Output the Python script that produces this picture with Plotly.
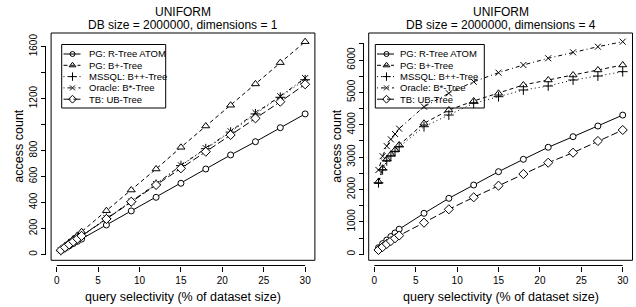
import plotly.graph_objects as go

# ---------------- data ----------------
selectivity = [0.5, 1, 1.5, 2, 2.5, 3, 6, 9, 12, 15, 18, 21, 24, 27, 30]

series_names = ["PG: R-Tree ATOM", "PG: B+-Tree", "MSSQL: B++-Tree",
                "Oracle: B*-Tree", "TB: UB-Tree"]

# dimensions = 1
rtree_d1 = [30, 48, 66, 84, 101, 118, 227, 335, 440, 548, 658, 766, 868, 976, 1082]
bplus_d1 = [38, 66, 93, 120, 147, 175, 337, 496, 658, 825, 989, 1149, 1313, 1477, 1638]
mssql_d1 = [31, 53, 76, 98, 120, 143, 278, 406, 540, 684, 814, 942, 1082, 1210, 1345]
oracle_d1 = [32, 54, 77, 99, 122, 145, 280, 408, 542, 686, 818, 948, 1090, 1218, 1358]
ub_d1 = [33, 55, 77, 99, 121, 143, 273, 406, 535, 663, 791, 920, 1048, 1176, 1310]

# dimensions = 4
rtree_d4 = [204, 330, 440, 550, 660, 775, 1266, 1729, 2140, 2551, 2934, 3305, 3632, 3962, 4299]
bplus_d4 = [2243, 2656, 2934, 3088, 3221, 3376, 4046, 4456, 4734, 4972, 5229, 5383, 5537, 5692, 5846]
mssql_d4 = [2210, 2610, 2890, 3040, 3180, 3320, 3941, 4302, 4663, 4867, 5074, 5198, 5383, 5506, 5640]
oracle_d4 = [2604, 3030, 3340, 3550, 3716, 3880, 4558, 4972, 5330, 5608, 5846, 6053, 6238, 6411, 6566]
ub_d4 = [133, 225, 320, 410, 495, 580, 976, 1390, 1760, 2119, 2480, 2829, 3138, 3499, 3839]

x_ticks = [0, 5, 10, 15, 20, 25, 30]
y1_ticks = [0, 200, 400, 600, 800, 1000, 1200, 1400, 1600]
y1_labels = ["0", "200", "400", "600", "800", "", "1200", "", "1600"]
y4_ticks = [0, 500, 1000, 1500, 2000, 2500, 3000, 3500, 4000, 4500, 5000, 5500, 6000, 6500]
y4_labels = ["0", "", "1000", "", "2000", "", "3000", "", "4000", "", "5000", "", "6000", ""]

titles_line1 = ["UNIFORM", "UNIFORM"]
titles_line2 = ["DB size = 2000000, dimensions = 1", "DB size = 2000000, dimensions = 4"]
x_title = "query selectivity (% of dataset size)"
y_title = "access count"

# ---------------- styles ----------------
W, H = 636, 307
FONT = "Liberation Sans, Arial, Helvetica, sans-serif"
symbols = ["circle", "triangle-up", "cross-thin", "x-thin", "diamond"]
dashes = ["solid", "4px,3px", "1px,3px", "1px,3px,4px,3px", "7px,3px"]
msizes = [6, 7, 7, 6, 7]


def px(xp):
    return xp / W


def py(yp):
    return 1 - yp / H


fig = go.Figure()

panels = [
    dict(xa="x", ya="y", data=[rtree_d1, bplus_d1, mssql_d1, oracle_d1, ub_d1]),
    dict(xa="x2", ya="y2", data=[rtree_d4, bplus_d4, mssql_d4, oracle_d4, ub_d4]),
]

for p in panels:
    for i, vals in enumerate(p["data"]):
        fig.add_trace(go.Scatter(
            x=selectivity, y=vals, xaxis=p["xa"], yaxis=p["ya"],
            mode="lines+markers", name=series_names[i], showlegend=False,
            line=dict(color="black", width=1, dash=dashes[i]),
            marker=dict(symbol=symbols[i], size=msizes[i], color="white",
                        line=dict(color="black", width=1)),
            cliponaxis=False,
        ))

# plot boxes (pixel layout)
box_left = [51.1, 368.7]
box_right = [314.9, 632.5]
box_top, box_bot = 33, 260.3
yaxis_line_x = [45.5, 363.5]
xaxis_line_y = 265.5

tickfont = dict(family=FONT, size=10, color="black")
common_x = dict(range=[-0.68, 31.18], tickvals=x_ticks, ticks="outside", ticklen=5,
                tickwidth=1, tickcolor="black", showline=False, showgrid=False,
                zeroline=False, tickfont=tickfont, anchor="free", position=py(xaxis_line_y))
fig.update_layout(
    xaxis=dict(domain=[px(box_left[0]), px(box_right[0])], **common_x),
    xaxis2=dict(domain=[px(box_left[1]), px(box_right[1])], **common_x),
    yaxis=dict(domain=[py(box_bot), py(box_top)], range=[-45, 1705],
               tickvals=y1_ticks, ticktext=y1_labels, tickangle=-90,
               ticks="outside", ticklen=5, tickwidth=1, tickcolor="black",
               showline=False, showgrid=False, zeroline=False, tickfont=tickfont,
               anchor="free", position=px(yaxis_line_x[0])),
    yaxis2=dict(domain=[py(box_bot), py(box_top)], range=[-185, 6834],
                tickvals=y4_ticks, ticktext=y4_labels, tickangle=-90,
                ticks="outside", ticklen=5, tickwidth=1, tickcolor="black",
                showline=False, showgrid=False, zeroline=False, tickfont=tickfont,
                anchor="free", position=px(yaxis_line_x[1])),
    # overlay pixel axes for the hand-drawn legends
    xaxis3=dict(domain=[0, 1], range=[0, W], visible=False, fixedrange=True, anchor="y3"),
    yaxis3=dict(domain=[0, 1], range=[H, 0], visible=False, fixedrange=True, anchor="x3"),
    width=W, height=H, margin=dict(l=0, r=0, t=0, b=0),
    paper_bgcolor="white", plot_bgcolor="rgba(0,0,0,0)",
    showlegend=False,
)

shapes = []
annotations = []
y_last_tick = [1600, 6500]
for k in range(2):
    shapes.append(dict(type="rect", xref="paper", yref="paper",
                       x0=px(box_left[k]), x1=px(box_right[k]),
                       y0=py(box_bot), y1=py(box_top),
                       line=dict(color="black", width=1)))
    xr = "x" if k == 0 else "x2"
    yr = "y" if k == 0 else "y2"
    # R style axis lines spanning the tick range
    shapes.append(dict(type="line", xref=xr, yref="paper", x0=x_ticks[0], x1=x_ticks[-1],
                       y0=py(xaxis_line_y), y1=py(xaxis_line_y),
                       line=dict(color="black", width=1)))
    shapes.append(dict(type="line", xref="paper", yref=yr,
                       x0=px(yaxis_line_x[k]), x1=px(yaxis_line_x[k]),
                       y0=0, y1=y_last_tick[k], line=dict(color="black", width=1)))
    cx = (box_left[k] + box_right[k]) / 2
    annotations.append(dict(text=titles_line1[k], x=px(cx), y=py(11.7), xref="paper", yref="paper",
                            showarrow=False, xanchor="center", yanchor="middle",
                            font=dict(family=FONT, size=12, color="black")))
    annotations.append(dict(text=titles_line2[k], x=px(cx), y=py(25.2), xref="paper", yref="paper",
                            showarrow=False, xanchor="center", yanchor="middle",
                            font=dict(family=FONT, size=12, color="black")))
    annotations.append(dict(text=x_title, x=px(cx), y=py(296.5), xref="paper", yref="paper",
                            showarrow=False, xanchor="center", yanchor="middle",
                            font=dict(family=FONT, size=12.5, color="black")))
    ycy = (box_top + box_bot) / 2
    annotations.append(dict(text=y_title, x=px(yaxis_line_x[k] - 26.5), y=py(ycy),
                            xref="paper", yref="paper", textangle=-90,
                            showarrow=False, xanchor="center", yanchor="middle",
                            font=dict(family=FONT, size=12.5, color="black")))

# legends
leg_box = [(61.7, 165.7), (375.3, 484.3)]
leg_top, leg_bot = 44.5, 108
leg_rows = [54.0, 65.3, 76.6, 87.9, 99.2]
glyph = [(63.5, 72.5, 80.5, 87.0), (377.0, 386.5, 394.0, 398.0)]
for k in range(2):
    shapes.append(dict(type="rect", xref="paper", yref="paper",
                       x0=px(leg_box[k][0]), x1=px(leg_box[k][1]),
                       y0=py(leg_bot), y1=py(leg_top),
                       line=dict(color="black", width=1)))
    g0, gm, g1, gt = glyph[k]
    for i, name in enumerate(series_names):
        yr_ = leg_rows[i]
        fig.add_trace(go.Scatter(x=[g0, g1], y=[yr_, yr_], xaxis="x3", yaxis="y3",
                                 mode="lines", showlegend=False, hoverinfo="skip",
                                 line=dict(color="black", width=1, dash=dashes[i])))
        fig.add_trace(go.Scatter(x=[gm], y=[yr_], xaxis="x3", yaxis="y3",
                                 mode="markers", showlegend=False, hoverinfo="skip",
                                 marker=dict(symbol=symbols[i], size=msizes[i] - 1,
                                             color="rgba(0,0,0,0)",
                                             line=dict(color="black", width=1))))
        annotations.append(dict(text=name, x=px(gt), y=py(yr_), xref="paper", yref="paper",
                                showarrow=False, xanchor="left", yanchor="middle",
                                font=dict(family=FONT, size=9.5, color="black")))

fig.update_layout(shapes=shapes, annotations=annotations)
fig.write_html("out.html", config={"displayModeBar": False},
               post_script="document.body.style.margin='0';document.body.style.overflow='hidden';")
